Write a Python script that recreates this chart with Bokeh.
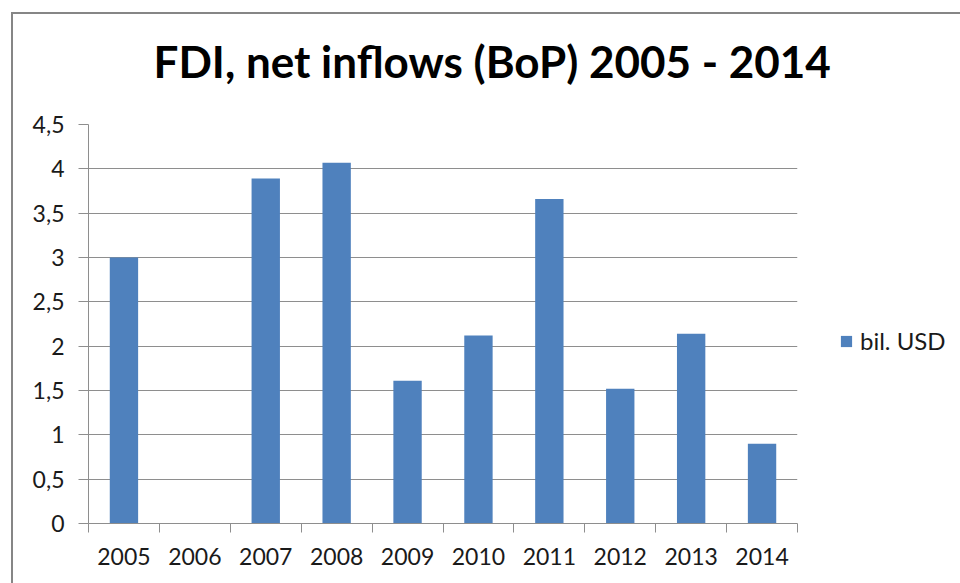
from bokeh.plotting import figure
from bokeh.models import (Range1d, FixedTicker, Legend, LegendItem, ColumnDataSource, LinearAxis)
from bokeh.embed import file_html
from bokeh.resources import INLINE

# ---- data ----
years = ["2005", "2006", "2007", "2008", "2009", "2010", "2011", "2012", "2013", "2014"]
fdi_values = [3.00, 0.0, 3.89, 4.07, 1.61, 2.12, 3.66, 1.52, 2.14, 0.90]
y_ticks = [0, 0.5, 1, 1.5, 2, 2.5, 3, 3.5, 4, 4.5]
y_tick_labels = ["0", "0,5", "1", "1,5", "2", "2,5", "3", "3,5", "4", "4,5"]
title_text = "FDI, net inflows (BoP) 2005 - 2014"
series_name = "bil. USD"

FONT = "Lato"
GRID = "#8e8e8e"
BAR = "#4F81BD"

n = len(years)
centers = [i + 0.5 for i in range(n)]
bounds = list(range(n + 1))

p = figure(width=947, height=569, frame_width=709, frame_height=399,
           min_border_left=75, min_border_right=163, min_border_top=110,
           min_border_bottom=60,
           x_range=Range1d(0, n), y_range=Range1d(y_ticks[0], y_ticks[-1]),
           output_backend="svg", toolbar_location=None,
           styles={"border-top": "2px solid #868686", "border-left": "2px solid #868686",
                   "margin-left": "11px", "margin-top": "12px"})
p.outline_line_color = None
p.background_fill_color = "white"
p.border_fill_color = "white"

src = ColumnDataSource(dict(x=centers, top=fdi_values, year=years))
r = p.vbar(x="x", top="top", width=0.4, bottom=0, source=src,
           fill_color=BAR, line_color=None)

# x axis (below)
xa = p.below[0]
xa.ticker = FixedTicker(ticks=centers, minor_ticks=bounds)
xa.major_label_overrides = {c: y for c, y in zip(centers, years)}
xa.major_tick_line_color = None
xa.major_tick_in = 0
xa.major_tick_out = 0
xa.minor_tick_in = 0
xa.minor_tick_out = 9
xa.minor_tick_line_color = GRID
xa.axis_line_color = GRID
xa.major_label_standoff = 15
xa.major_label_text_font = FONT
xa.major_label_text_font_size = "23px"
xa.major_label_text_color = "#1a1a1a"

# y axis
ya = p.left[0]
ya.ticker = FixedTicker(ticks=y_ticks, minor_ticks=[])
ya.major_label_overrides = {t: l for t, l in zip(y_ticks, y_tick_labels)}
ya.major_tick_in = 0
ya.major_tick_out = 10
ya.major_tick_line_color = GRID
ya.axis_line_color = GRID
ya.major_label_standoff = 14
ya.major_label_text_font = FONT
ya.major_label_text_font_size = "23px"
ya.major_label_text_color = "#1a1a1a"

p.xgrid.visible = False
p.ygrid.grid_line_color = GRID
p.ygrid.grid_line_width = 1

# spacer between the title and the plot area (an invisible axis above)
spacer = LinearAxis(ticker=FixedTicker(ticks=[centers[0]], minor_ticks=[]),
                    axis_line_color=None,
                    major_tick_line_color=None, minor_tick_line_color=None,
                    major_tick_in=0, major_tick_out=38, minor_tick_in=0, minor_tick_out=0,
                    major_label_standoff=0, major_label_text_font_size="12px",
                    major_label_text_alpha=0)
p.add_layout(spacer, "above")

# title
p.title.text = title_text
p.title.text_font = FONT
p.title.text_font_style = "bold"
p.title.text_font_size = "44px"
p.title.text_color = "#000000"
p.title.align = "left"
p.title.offset = 65
p.title.standoff = 0

# legend
legend = Legend(items=[LegendItem(label=series_name, renderers=[r])],
                location=(42, 168), orientation="vertical",
                border_line_color=None, background_fill_alpha=0,
                padding=0, margin=0, spacing=0,
                glyph_width=14, glyph_height=14, label_standoff=7,
                label_text_font=FONT, label_text_font_size="24px",
                label_text_color="#1a1a1a")
p.add_layout(legend, "right")

open("out.html", "w").write(file_html(p, INLINE))
